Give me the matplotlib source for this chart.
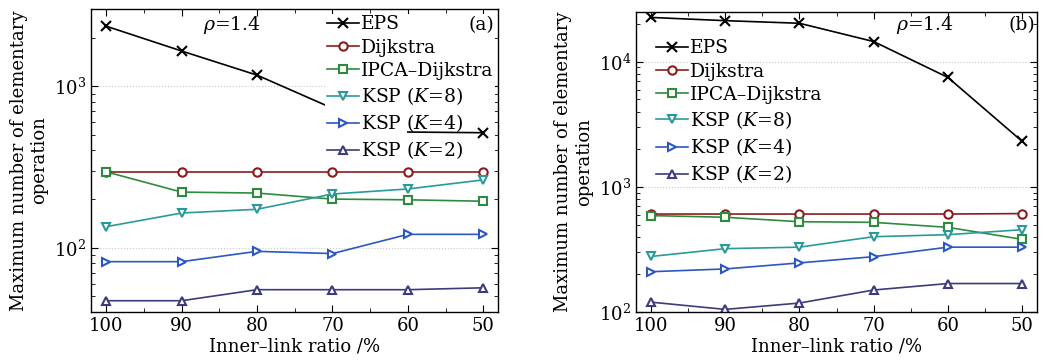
import numpy as np
import matplotlib
matplotlib.use("Agg")
import matplotlib.pyplot as plt
from matplotlib.ticker import LogLocator, NullFormatter, MultipleLocator

plt.rcParams['font.family'] = ['DejaVu Serif']
plt.rcParams['mathtext.fontset'] = 'dejavuserif'

ratio = [100, 90, 80, 70, 60, 50]
labels = ["EPS", "Dijkstra", "IPCA\u2013Dijkstra",
          "KSP ($K$=8)", "KSP ($K$=4)", "KSP ($K$=2)"]

# panel (a)
eps_a = [2350, 1650, 1170, 730, 520, 515]
dij_a = [295, 295, 295, 295, 295, 295]
ipca_a = [295, 221, 218, 200, 198, 194]
ksp8_a = [135, 164, 173, 215, 231, 263]
ksp4_a = [82, 82, 95, 92, 121, 121]
ksp2_a = [47, 47, 55, 55, 55, 56.5]

# panel (b)
eps_b = [22600, 21300, 20300, 14500, 7490, 2310]
dij_b = [607, 607, 607, 607, 607, 612]
ipca_b = [590, 572, 527, 521, 475, 381]
ksp8_b = [278, 321, 330, 400, 415, 455]
ksp4_b = [210, 221, 247, 277, 330, 330]
ksp2_b = [120, 105, 118, 150, 169, 169]

colors = ["black", "#8b1c1c", "#2e8b3e", "#2a9a98", "#2b58c0", "#3b3b7e"]
markers = ["x", "o", "s", "v", ">", "^"]

fig = plt.figure(figsize=(10.47, 3.62), dpi=100)
ax1 = fig.add_axes([0.087, 0.138, 0.389, 0.837])
ax2 = fig.add_axes([0.6075, 0.138, 0.383, 0.829])


def mstyle(c, m):
    return dict(color=c, marker=m, markersize=6 if m != "x" else 7.5,
                markerfacecolor="white" if m != "x" else c, markeredgewidth=1.5,
                linewidth=1.2)


def draw(ax, series, ylim):
    for vals, c, m, lab in zip(series, colors, markers, labels):
        ax.plot(ratio, vals, label=lab, **mstyle(c, m))
    ax.set_yscale("log")
    ax.set_xlim(102, 48)
    ax.set_ylim(*ylim)
    ax.xaxis.set_major_locator(MultipleLocator(10))
    ax.xaxis.set_minor_locator(MultipleLocator(5))
    ax.yaxis.set_minor_locator(LogLocator(base=10, subs=np.arange(2, 10)))
    ax.yaxis.set_minor_formatter(NullFormatter())
    ax.tick_params(which="both", direction="in", top=True, right=True, labelsize=13)
    ax.tick_params(which="major", length=5)
    ax.tick_params(which="minor", length=3)
    ax.grid(True, which="major", axis="y", linestyle=":", color="#c8c8c8", linewidth=0.8)
    ax.set_xlabel("Inner\u2013link ratio /%", fontsize=13, labelpad=2)
    ax.set_ylabel("Maximum number of elementary\noperation", fontsize=13, labelpad=4)
    for s in ax.spines.values():
        s.set_linewidth(1.0)


draw(ax1, [eps_a, dij_a, ipca_a, ksp8_a, ksp4_a, ksp2_a], (40, 3000))
draw(ax2, [eps_b, dij_b, ipca_b, ksp8_b, ksp4_b, ksp2_b], (100, 25000))

legkw = dict(fontsize=13.5, handlelength=1.7, handletextpad=0.1,
             labelspacing=0.28, borderpad=0.1, borderaxespad=0.0)
leg1 = ax1.legend(loc="upper left", bbox_to_anchor=(0.575, 0.985), frameon=True, **legkw)
leg1.get_frame().set_edgecolor("none")
leg1.get_frame().set_alpha(1.0)
leg1.set_zorder(5)
# last EPS segment shows on top of the legend box in the original
ax1.plot(ratio[4:], eps_a[4:], zorder=6, markevery=[1], **mstyle(colors[0], "x"))
ax2.legend(loc="upper left", bbox_to_anchor=(0.045, 0.915), frameon=False, **legkw)

ax1.text(0.345, 0.947, r"$\rho$=1.4", transform=ax1.transAxes, fontsize=13.5,
         ha="center", va="center")
ax1.text(0.99, 0.947, "(a)", transform=ax1.transAxes, fontsize=13.5,
         ha="right", va="center", zorder=10)
ax2.text(0.72, 0.957, r"$\rho$=1.4", transform=ax2.transAxes, fontsize=13.5,
         ha="center", va="center")
ax2.text(0.995, 0.957, "(b)", transform=ax2.transAxes, fontsize=13.5,
         ha="right", va="center")

fig.savefig("out.png", dpi=100)
